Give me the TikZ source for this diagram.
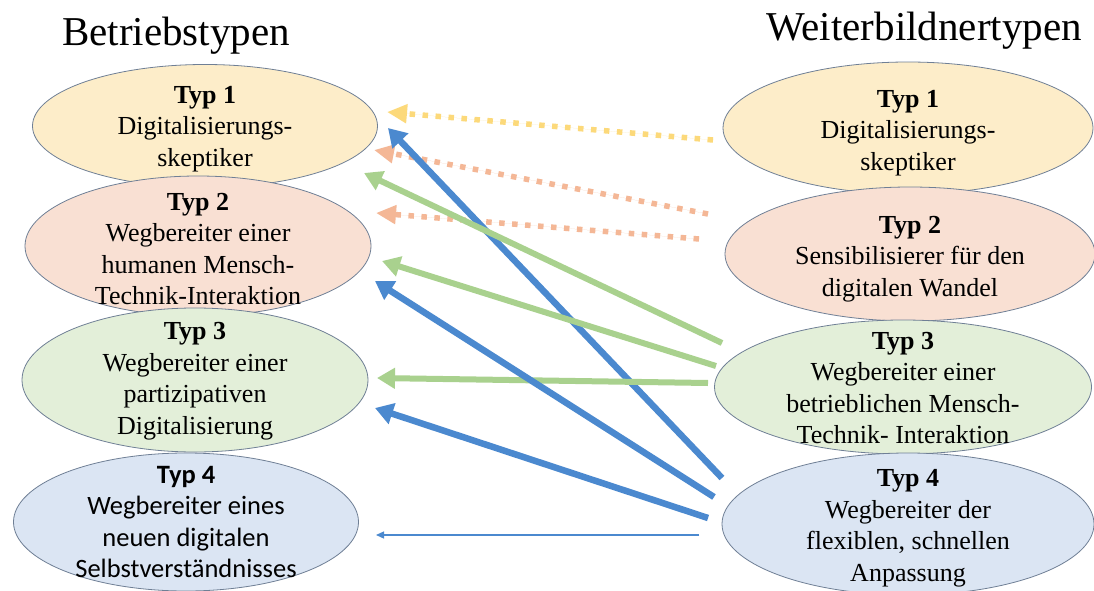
\documentclass[tikz,border=0pt]{standalone}
\usepackage{fontspec}
\setmainfont{Liberation Serif}
\newfontfamily\serifrm{Liberation Serif}
\newfontfamily\calfont{Carlito}
\usetikzlibrary{shapes.geometric,arrows.meta}
\definecolor{bordc}{HTML}{6F7F95}
\definecolor{fyel}{HTML}{FDEDC9}
\definecolor{fora}{HTML}{F9E0D3}
\definecolor{fgre}{HTML}{E3EFD9}
\definecolor{fblu}{HTML}{DBE5F3}
\definecolor{cblue}{HTML}{4B89CF}
\definecolor{cgreen}{HTML}{A9D18E}
\definecolor{corange}{HTML}{F4B796}
\definecolor{cyellow}{HTML}{FCD97A}
\begin{document}
\begin{tikzpicture}[x=1pt,y=-1pt,
  typ/.style={ellipse, draw=bordc, line width=0.8pt, inner sep=0pt},
  txt/.style={inner sep=0pt, align=center, font=\serifrm\fontsize{26}{31.5}\selectfont},
  title/.style={font=\serifrm\fontsize{41}{46}\selectfont, inner sep=0pt},
  bluearr/.style={draw=cblue, line width=6.5pt, -{Triangle[length=18pt,width=21pt]}},
  greenarr/.style={draw=cgreen, line width=6pt, -{Triangle[length=18pt,width=20pt]}},
  dotarr/.style={line width=5.5pt, dash pattern=on 5.5pt off 7.5pt, -{Triangle[length=20pt,width=18pt]}},
  thinarr/.style={draw=cblue, line width=1.3pt, -{Triangle[length=8pt,width=7pt]}}
]
\useasboundingbox (0,0) rectangle (1094,591);
\fill[white] (0,0) rectangle (1094,591);

\node[title] (tl) at (176,36) {Betriebstypen};
\node[title] (tr) at (924,31) {Weiterbildnertypen};

% ellipses (shapes first)
\node[typ, fill=fyel, minimum width=345pt, minimum height=123pt] (L1) at (205,126) {};
\node[typ, fill=fora, minimum width=346pt, minimum height=140pt] (L2) at (198,246) {};
\node[typ, fill=fgre, minimum width=346pt, minimum height=144pt] (L3) at (195,380) {};
\node[typ, fill=fblu, minimum width=345pt, minimum height=138pt] (L4) at (186,522) {};
\node[typ, fill=fyel, minimum width=370pt, minimum height=132pt] (R1) at (908,128) {};
\node[typ, fill=fora, minimum width=370pt, minimum height=134pt] (R2) at (910,254) {};
\node[typ, fill=fgre, minimum width=377pt, minimum height=134pt] (R3) at (903,387) {};
\node[typ, fill=fblu, minimum width=372pt, minimum height=142pt] (R4) at (908,524) {};

% texts on top
\node[txt] (R4t) at ([yshift=-4pt]R4.center) {\textbf{Typ 4}\\Wegbereiter der\\flexiblen, schnellen\\Anpassung};
\node[txt] (R3t) at ([yshift=-1pt]R3.center) {\textbf{Typ 3}\\Wegbereiter einer\\betrieblichen Mensch-\\Technik- Interaktion};
\node[txt] (R2t) at ([yshift=-5pt]R2.center) {\textbf{Typ 2}\\Sensibilisierer für den\\digitalen Wandel};
\node[txt] (R1t) at ([yshift=-5pt]R1.center) {\textbf{Typ 1}\\Digitalisierungs-\\skeptiker};
\node[txt, font=\calfont\fontsize{26.5}{31.5}\selectfont] (L4t) at (L4) {\textbf{Typ 4}\\Wegbereiter eines\\neuen digitalen\\Selbstverständnisses};
\node[txt] (L3t) at ([yshift=-1pt]L3.center) {\textbf{Typ 3}\\Wegbereiter einer\\partizipativen\\Digitalisierung};
\node[txt] (L2t) at ([yshift=-3pt]L2.center) {\textbf{Typ 2}\\Wegbereiter einer\\humanen Mensch-\\Technik-Interaktion};
\node[txt] (L1t) at ([yshift=-3pt]L1.center) {\textbf{Typ 1}\\Digitalisierungs-\\skeptiker};

% arrow end points
\coordinate (y1s) at (713,140);  \coordinate (y1e) at (387,112);
\coordinate (o1s) at (708,214);  \coordinate (o1e) at (374,150);
\coordinate (o2s) at (699,239);  \coordinate (o2e) at (376,213);
\coordinate (g1s) at (722,343);  \coordinate (g1e) at (364,173);
\coordinate (g2s) at (716,366);  \coordinate (g2e) at (382,261);
\coordinate (g3s) at (708,383);  \coordinate (g3e) at (377,378);
\coordinate (b1s) at (722,478);  \coordinate (b1e) at (388,128);
\coordinate (b2s) at (714,497);  \coordinate (b2e) at (375,281);
\coordinate (b3s) at (708,518);  \coordinate (b3e) at (375,408);
\coordinate (b4s) at (699,535);  \coordinate (b4e) at (376,535);

\draw[dotarr, draw=cyellow, fill=cyellow] (y1s) -- (y1e);
\draw[dotarr, draw=corange, fill=corange] (o1s) -- (o1e);
\draw[dotarr, draw=corange, fill=corange] (o2s) -- (o2e);
\draw[bluearr, fill=cblue] (b1s) -- (b1e);
\draw[greenarr, fill=cgreen] (g1s) -- (g1e);
\draw[greenarr, fill=cgreen] (g2s) -- (g2e);
\draw[greenarr, fill=cgreen] (g3s) -- (g3e);
\draw[bluearr, fill=cblue] (b2s) -- (b2e);
\draw[bluearr, fill=cblue] (b3s) -- (b3e);
\draw[thinarr, fill=cblue] (b4s) -- (b4e);
\end{tikzpicture}
\end{document}
